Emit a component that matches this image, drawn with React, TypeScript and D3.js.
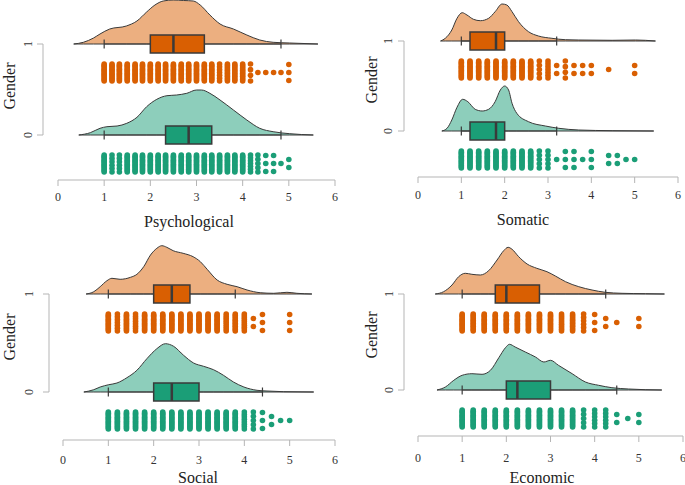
import React from 'react';
import * as d3 from 'd3';

// ---------- colours ----------
const ORANGE = '#D95F02';
const GREEN = '#1B9E77';
const ORANGE_LIGHT = '#ECAF80';
const GREEN_LIGHT = '#8DCEBB';

// ---------- shared tick labels ----------
const xTicks = [0, 1, 2, 3, 4, 5, 6];
const genderLabels = ['1', '0'];

// ---------- Psychological ----------
const psychG1DensX = [0.34, 0.55, 0.77, 0.91, 1.12, 1.48, 1.71, 1.92, 2.1, 2.28, 2.5, 2.72, 2.93, 3.08, 3.29, 3.51, 3.8, 4.09, 4.37, 4.66, 5.02, 5.63];
const psychG1Dens = [0, 0.017, 0.06, 0.1, 0.15, 0.18, 0.23, 0.32, 0.39, 0.43, 0.44, 0.435, 0.43, 0.39, 0.29, 0.2, 0.15, 0.09, 0.04, 0.017, 0.01, 0];
const psychG0DensX = [0.45, 0.7, 0.91, 1.06, 1.28, 1.49, 1.71, 1.92, 2.14, 2.36, 2.57, 2.79, 3.0, 3.11, 3.29, 3.51, 3.8, 4.09, 4.37, 4.66, 5.02, 5.53];
const psychG0Dens = [0, 0.023, 0.067, 0.083, 0.09, 0.117, 0.177, 0.283, 0.357, 0.393, 0.4, 0.417, 0.45, 0.45, 0.417, 0.35, 0.25, 0.15, 0.067, 0.033, 0.013, 0];
const psychG1Box = [1, 2, 2.5, 3.17, 4.83];
const psychG0Box = [1, 2.33, 2.83, 3.33, 4.83];
const psychDotValues = [1, 1.17, 1.33, 1.5, 1.67, 1.83, 2, 2.17, 2.33, 2.5, 2.67, 2.83, 3, 3.17, 3.33, 3.5, 3.67, 3.83, 4, 4.17, 4.33, 4.5, 4.67, 4.83, 5];
const psychG1DotCounts = [14, 14, 14, 14, 14, 14, 14, 14, 14, 14, 14, 14, 14, 14, 14, 7, 12, 12, 12, 4, 1, 1, 1, 1, 3];
const psychG0DotCounts = [14, 6, 6, 14, 14, 14, 14, 14, 14, 14, 14, 14, 14, 14, 14, 14, 14, 14, 14, 7, 5, 3, 3, 1, 2];

// ---------- Somatic ----------
const somG1DensX = [0.52, 0.63, 0.78, 0.9, 1.02, 1.13, 1.28, 1.44, 1.63, 1.78, 1.94, 2.05, 2.17, 2.32, 2.55, 2.78, 3.09, 3.4, 3.71, 4.48, 5.02, 5.48];
const somG1Dens = [0, 0.027, 0.11, 0.227, 0.283, 0.26, 0.217, 0.203, 0.227, 0.293, 0.37, 0.36, 0.293, 0.193, 0.093, 0.05, 0.027, 0.013, 0.01, 0.007, 0.01, 0];
const somG0DensX = [0.55, 0.67, 0.78, 0.9, 1.03, 1.15, 1.32, 1.48, 1.63, 1.78, 1.9, 2.0, 2.09, 2.17, 2.28, 2.55, 2.94, 3.25, 3.71, 4.48, 5.44];
const somG0Dens = [0, 0.027, 0.11, 0.237, 0.317, 0.293, 0.217, 0.2, 0.217, 0.293, 0.41, 0.45, 0.41, 0.277, 0.177, 0.093, 0.05, 0.027, 0.01, 0.003, 0];
const somG1Box = [1, 1.2, 1.8, 2.0, 3.2];
const somG0Box = [1, 1.2, 1.8, 2.0, 3.2];
const somG1DotValues = [1, 1.2, 1.4, 1.6, 1.8, 2, 2.2, 2.4, 2.6, 2.8, 3, 3.2, 3.4, 3.6, 3.8, 4, 4.4, 5];
const somG1DotCounts = [14, 14, 14, 14, 14, 14, 14, 14, 14, 5, 7, 2, 4, 2, 2, 2, 1, 2];
const somG0DotValues = [1, 1.2, 1.4, 1.6, 1.8, 2, 2.2, 2.4, 2.6, 2.8, 3, 3.2, 3.4, 3.6, 3.8, 4, 4.4, 4.6, 4.8, 5];
const somG0DotCounts = [14, 14, 14, 14, 14, 14, 14, 14, 14, 5, 5, 1, 3, 3, 1, 3, 2, 2, 1, 1];

// ---------- Social ----------
const socG1DensX = [0.51, 0.68, 0.82, 0.97, 1.08, 1.26, 1.49, 1.63, 1.78, 1.93, 2.07, 2.18, 2.29, 2.43, 2.65, 2.87, 3.03, 3.18, 3.4, 3.62, 3.84, 4.06, 4.35, 4.65, 4.94, 5.16, 5.49];
const socG1Dens = [0, 0.023, 0.073, 0.133, 0.157, 0.147, 0.167, 0.197, 0.273, 0.39, 0.457, 0.483, 0.467, 0.433, 0.407, 0.373, 0.323, 0.247, 0.14, 0.097, 0.073, 0.04, 0.013, 0.007, 0.017, 0.007, 0];
const socG0DensX = [0.46, 0.68, 0.82, 1.01, 1.19, 1.41, 1.63, 1.85, 2.07, 2.26, 2.44, 2.66, 2.88, 3.1, 3.32, 3.54, 3.76, 3.99, 4.28, 4.5, 4.87, 5.53];
const socG0Dens = [0, 0.023, 0.05, 0.073, 0.09, 0.143, 0.217, 0.333, 0.433, 0.483, 0.457, 0.367, 0.29, 0.257, 0.223, 0.167, 0.1, 0.05, 0.017, 0.01, 0.003, 0];
const socG1Box = [1, 2.0, 2.4, 2.8, 3.8];
const socG0Box = [1, 2.0, 2.4, 3.0, 4.4];
const socG1DotValues = [1, 1.2, 1.4, 1.6, 1.8, 2, 2.2, 2.4, 2.6, 2.8, 3, 3.2, 3.4, 3.6, 3.8, 4, 4.2, 4.4, 5];
const socG1DotCounts = [14, 7, 14, 8, 14, 14, 14, 14, 14, 14, 14, 14, 14, 9, 12, 10, 2, 3, 3];
const socG0DotValues = [1, 1.2, 1.4, 1.6, 1.8, 2, 2.2, 2.4, 2.6, 2.8, 3, 3.2, 3.4, 3.6, 3.8, 4, 4.2, 4.4, 4.6, 4.8, 5];
const socG0DotCounts = [14, 14, 14, 14, 14, 14, 14, 14, 14, 14, 14, 14, 14, 14, 14, 8, 5, 3, 2, 1, 1];

// ---------- Economic ----------
const ecoG1DensX = [0.39, 0.58, 0.77, 0.92, 1.07, 1.22, 1.41, 1.6, 1.79, 1.94, 2.04, 2.13, 2.28, 2.47, 2.69, 2.92, 3.11, 3.34, 3.64, 3.94, 4.24, 4.62, 5.15, 5.58];
const ecoG1Dens = [0, 0.023, 0.09, 0.173, 0.207, 0.197, 0.19, 0.233, 0.34, 0.433, 0.467, 0.447, 0.373, 0.3, 0.257, 0.223, 0.18, 0.123, 0.073, 0.04, 0.017, 0.007, 0.003, 0];
const ecoG0DensX = [0.43, 0.62, 0.81, 1.0, 1.22, 1.45, 1.64, 1.83, 1.98, 2.07, 2.2, 2.43, 2.66, 2.85, 3.0, 3.18, 3.49, 3.79, 4.09, 4.39, 4.77, 5.52];
const ecoG0Dens = [0, 0.03, 0.097, 0.147, 0.163, 0.157, 0.197, 0.323, 0.423, 0.457, 0.43, 0.38, 0.33, 0.28, 0.297, 0.247, 0.163, 0.08, 0.047, 0.023, 0.01, 0];
const ecoG1Box = [1, 1.75, 2.0, 2.75, 4.25];
const ecoG0Box = [1, 2.0, 2.25, 3.0, 4.5];
const ecoG1DotValues = [1, 1.25, 1.5, 1.75, 2, 2.25, 2.5, 2.75, 3, 3.25, 3.5, 3.75, 4, 4.25, 4.5, 5];
const ecoG1DotCounts = [14, 12, 14, 14, 14, 14, 14, 14, 14, 11, 12, 6, 3, 2, 1, 2];
const ecoG0DotValues = [1, 1.25, 1.5, 1.75, 2, 2.25, 2.5, 2.75, 3, 3.25, 3.5, 3.75, 4, 4.25, 4.5, 4.75, 5];
const ecoG0DotCounts = [14, 14, 14, 14, 14, 14, 14, 14, 14, 14, 14, 5, 6, 6, 2, 1, 2];

const titles = ['Psychological', 'Somatic', 'Social', 'Economic'];

type Group = { densX: number[]; dens: number[]; box: number[]; dotX: number[]; dotN: number[] };

const panelData: { g1: Group; g0: Group }[] = [
  {
    g1: { densX: psychG1DensX, dens: psychG1Dens, box: psychG1Box, dotX: psychDotValues, dotN: psychG1DotCounts },
    g0: { densX: psychG0DensX, dens: psychG0Dens, box: psychG0Box, dotX: psychDotValues, dotN: psychG0DotCounts },
  },
  {
    g1: { densX: somG1DensX, dens: somG1Dens, box: somG1Box, dotX: somG1DotValues, dotN: somG1DotCounts },
    g0: { densX: somG0DensX, dens: somG0Dens, box: somG0Box, dotX: somG0DotValues, dotN: somG0DotCounts },
  },
  {
    g1: { densX: socG1DensX, dens: socG1Dens, box: socG1Box, dotX: socG1DotValues, dotN: socG1DotCounts },
    g0: { densX: socG0DensX, dens: socG0Dens, box: socG0Box, dotX: socG0DotValues, dotN: socG0DotCounts },
  },
  {
    g1: { densX: ecoG1DensX, dens: ecoG1Dens, box: ecoG1Box, dotX: ecoG1DotValues, dotN: ecoG1DotCounts },
    g0: { densX: ecoG0DensX, dens: ecoG0Dens, box: ecoG0Box, dotX: ecoG0DotValues, dotN: ecoG0DotCounts },
  },
];

// ---------- layout (pixel geometry per panel) ----------
const layouts = [
  { x0: 58, x1: 335, axisY: 180, base1: 44, base0: 135, yAxisX: 43, ylabX: 32, genderX: 15, genderY: 86, titleX: 189, titleY: 227, tickY: 201 },
  { x0: 418, x1: 678, axisY: 177, base1: 41, base0: 131, yAxisX: 404, ylabX: 392, genderX: 377, genderY: 80, titleX: 523, titleY: 225, tickY: 199 },
  { x0: 63, x1: 335, axisY: 440, base1: 294, base0: 392, yAxisX: 49, ylabX: 33, genderX: 15, genderY: 337, titleX: 198, titleY: 483, tickY: 464 },
  { x0: 418, x1: 683, axisY: 436, base1: 294, base0: 390, yAxisX: 404, ylabX: 393, genderX: 377, genderY: 335, titleX: 542, titleY: 483, tickY: 462 },
];

const densPx = d3.scaleLinear().domain([0, 1]).range([0, 100]);
const SERIF = '"Liberation Serif", "DejaVu Serif", "Times New Roman", serif';
const STROKE = '#3a3a3a';

function GroupMarks({ g, x, base, dark, light }: { g: Group; x: d3.ScaleLinear<number, number>; base: number; dark: string; light: string }) {
  const pts = g.densX.map((v, i) => [v, g.dens[i]] as [number, number]);
  const area = d3
    .area<[number, number]>()
    .x((d) => x(d[0]))
    .y0(base)
    .y1((d) => base - densPx(d[1]))
    .curve(d3.curveMonotoneX);
  const [lo, q1, med, q3, hi] = g.box;
  const boxH = 9;
  const cap = 4.5;
  const r = 2.8;
  const dotTop = base + 20;
  const dotBot = base + 37;
  const mid = (dotTop + dotBot) / 2;
  const dots: { cx: number; cy: number }[] = [];
  g.dotX.forEach((v, i) => {
    const n = g.dotN[i];
    if (n === 1) {
      dots.push({ cx: x(v), cy: mid });
      return;
    }
    const step = Math.min((dotBot - dotTop) / (n - 1), 8);
    const start = mid - (step * (n - 1)) / 2;
    for (let k = 0; k < n; k++) dots.push({ cx: x(v), cy: start + k * step });
  });
  return (
    <g>
      <path d={area(pts) || ''} fill={light} stroke={STROKE} strokeWidth={1} />
      <line x1={x(lo)} x2={x(q1)} y1={base} y2={base} stroke={STROKE} strokeWidth={1.2} />
      <line x1={x(q3)} x2={x(hi)} y1={base} y2={base} stroke={STROKE} strokeWidth={1.2} />
      <line x1={x(lo)} x2={x(lo)} y1={base - cap} y2={base + cap} stroke={STROKE} strokeWidth={1.2} />
      <line x1={x(hi)} x2={x(hi)} y1={base - cap} y2={base + cap} stroke={STROKE} strokeWidth={1.2} />
      <rect x={x(q1)} y={base - boxH} width={x(q3) - x(q1)} height={boxH * 2} fill={dark} stroke={STROKE} strokeWidth={1.5} />
      <line x1={x(med)} x2={x(med)} y1={base - boxH} y2={base + boxH} stroke={STROKE} strokeWidth={2.5} />
      {dots.map((d, i) => (
        <circle key={i} cx={d.cx} cy={d.cy} r={r} fill={dark} />
      ))}
    </g>
  );
}

function Panel({ idx }: { idx: number }) {
  const L = layouts[idx];
  const data = panelData[idx];
  const x = d3.scaleLinear().domain([0, 6]).range([L.x0, L.x1]);
  const axisCol = '#b5b5b5';
  return (
    <g>
      <GroupMarks g={data.g1} x={x} base={L.base1} dark={ORANGE} light={ORANGE_LIGHT} />
      <GroupMarks g={data.g0} x={x} base={L.base0} dark={GREEN} light={GREEN_LIGHT} />
      {/* x axis */}
      <line x1={x(0)} x2={x(6)} y1={L.axisY} y2={L.axisY} stroke={axisCol} strokeWidth={1} />
      {xTicks.map((t) => (
        <g key={t}>
          <line x1={x(t)} x2={x(t)} y1={L.axisY} y2={L.axisY + 6} stroke={axisCol} strokeWidth={1} />
          <text x={x(t)} y={L.tickY} textAnchor="middle" fontFamily={SERIF} fontSize={12} fill="#333">
            {t}
          </text>
        </g>
      ))}
      <text x={L.titleX} y={L.titleY} textAnchor="middle" fontFamily={SERIF} fontSize={16} fill="#222">
        {titles[idx]}
      </text>
      {/* y axis */}
      <line x1={L.yAxisX} x2={L.yAxisX} y1={L.base1} y2={L.base0} stroke={axisCol} strokeWidth={1} />
      {[L.base1, L.base0].map((yy, i) => (
        <g key={i}>
          <line x1={L.yAxisX - 6} x2={L.yAxisX} y1={yy} y2={yy} stroke={axisCol} strokeWidth={1} />
          <text transform={`translate(${L.ylabX},${yy}) rotate(-90)`} textAnchor="middle" fontFamily={SERIF} fontSize={12} fill="#333">
            {genderLabels[i]}
          </text>
        </g>
      ))}
      <text transform={`translate(${L.genderX},${L.genderY}) rotate(-90)`} textAnchor="middle" fontFamily={SERIF} fontSize={16} fill="#222">
        Gender
      </text>
    </g>
  );
}

export default function App() {
  return (
    <svg width={685} height={485} style={{ position: 'absolute', left: 0, top: 0, background: '#fff' }}>
      <rect x={0} y={0} width={685} height={485} fill="#fff" />
      {[0, 1, 2, 3].map((i) => (
        <Panel key={i} idx={i} />
      ))}
    </svg>
  );
}
